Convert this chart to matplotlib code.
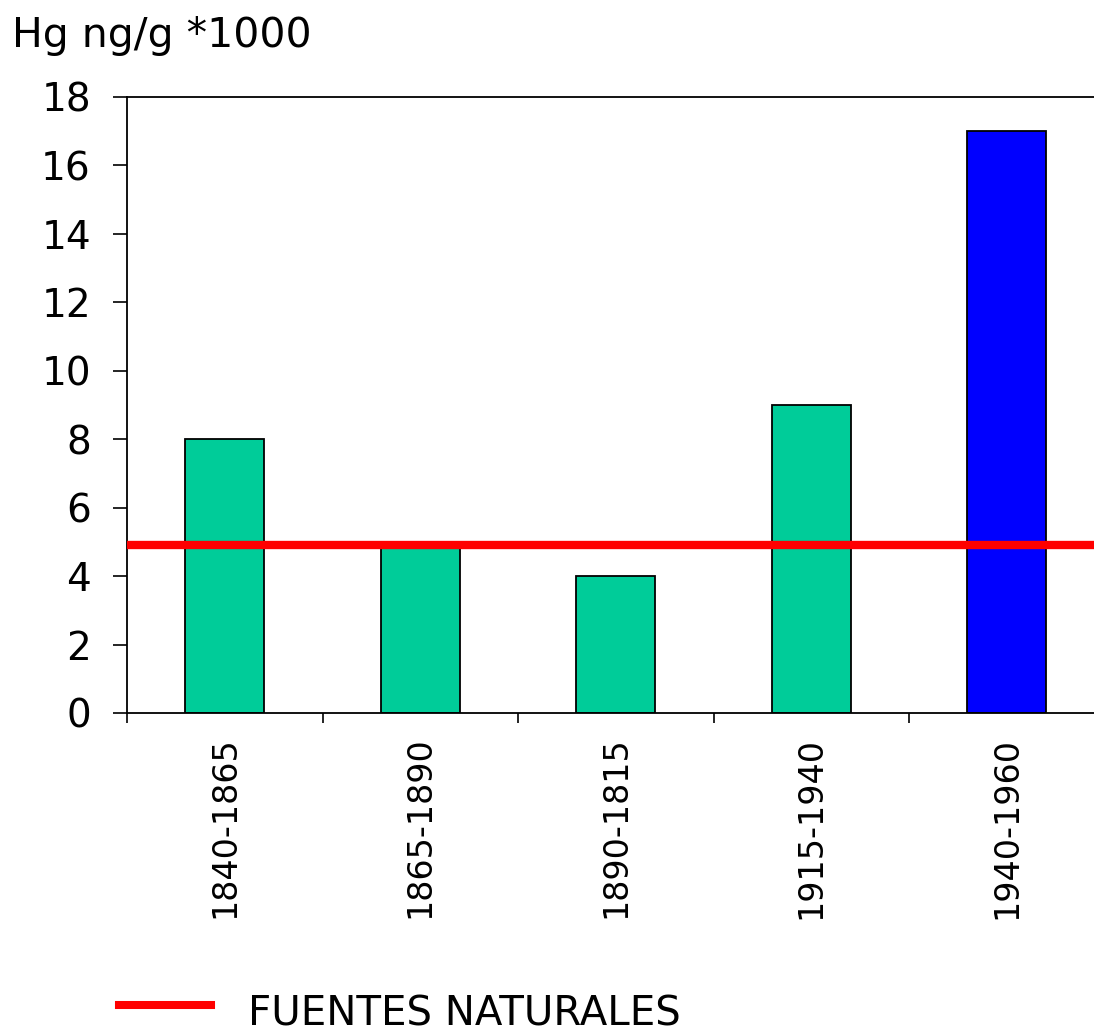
import matplotlib

matplotlib.use("Agg")
import matplotlib.pyplot as plt
from matplotlib.lines import Line2D
import numpy as np

# Mercury deposition per period
periods = ["1840-1865", "1865-1890", "1890-1815", "1915-1940", "1940-1960"]
hg_values = [8, 5, 4, 9, 17]
bar_colors = ["#00CC99", "#00CC99", "#00CC99", "#00CC99", "#0000FF"]
natural_level = 4.9
natural_label = "FUENTES NATURALES"
y_ticks = [0, 2, 4, 6, 8, 10, 12, 14, 16, 18]

plt.rcParams["font.family"] = ["DejaVu Sans"]

W, H = 1094, 1034
fig = plt.figure(figsize=(W / 100, H / 100), dpi=100)
ax = fig.add_axes([127 / W, 1 - 713 / H, (1104.5 - 127) / W, (713 - 97) / H])

x = np.arange(len(periods))
ax.bar(x, hg_values, width=0.405, color=bar_colors, edgecolor="black",
       linewidth=1.3, zorder=2)
ax.axhline(natural_level, color="#FF0000", linewidth=6, zorder=3)

ax.set_xlim(-0.5, len(periods) - 0.5)
ax.set_ylim(0, 18)
ax.set_yticks(y_ticks)
ax.tick_params(axis="y", length=10, width=1.2, pad=16, labelsize=28)

# tick marks between categories, labels under the bars
ax.set_xticks(np.arange(-0.5, len(periods)), labels=[])
ax.set_xticks(x, labels=periods, minor=True, rotation=90)
ax.tick_params(axis="x", which="major", length=7, width=1.2)
ax.tick_params(axis="x", which="minor", length=0, pad=17, labelsize=24)

for side in ["left", "top", "bottom"]:
    ax.spines[side].set_linewidth(1.3)
ax.spines["right"].set_visible(False)

fig.text(12 / W, 1 - 47 / H, "Hg ng/g *1000", fontsize=29.5, va="baseline")

# legend entry for the natural-sources line, drawn below the axis labels
fig.add_artist(Line2D([119 / W, 211 / W], [1 - 1005 / H, 1 - 1005 / H],
                      color="#FF0000", linewidth=5.8,
                      transform=fig.transFigure))
fig.text(248 / W, 1 - 1025 / H, natural_label, fontsize=29, va="baseline")

fig.savefig("out.png", dpi=100)
